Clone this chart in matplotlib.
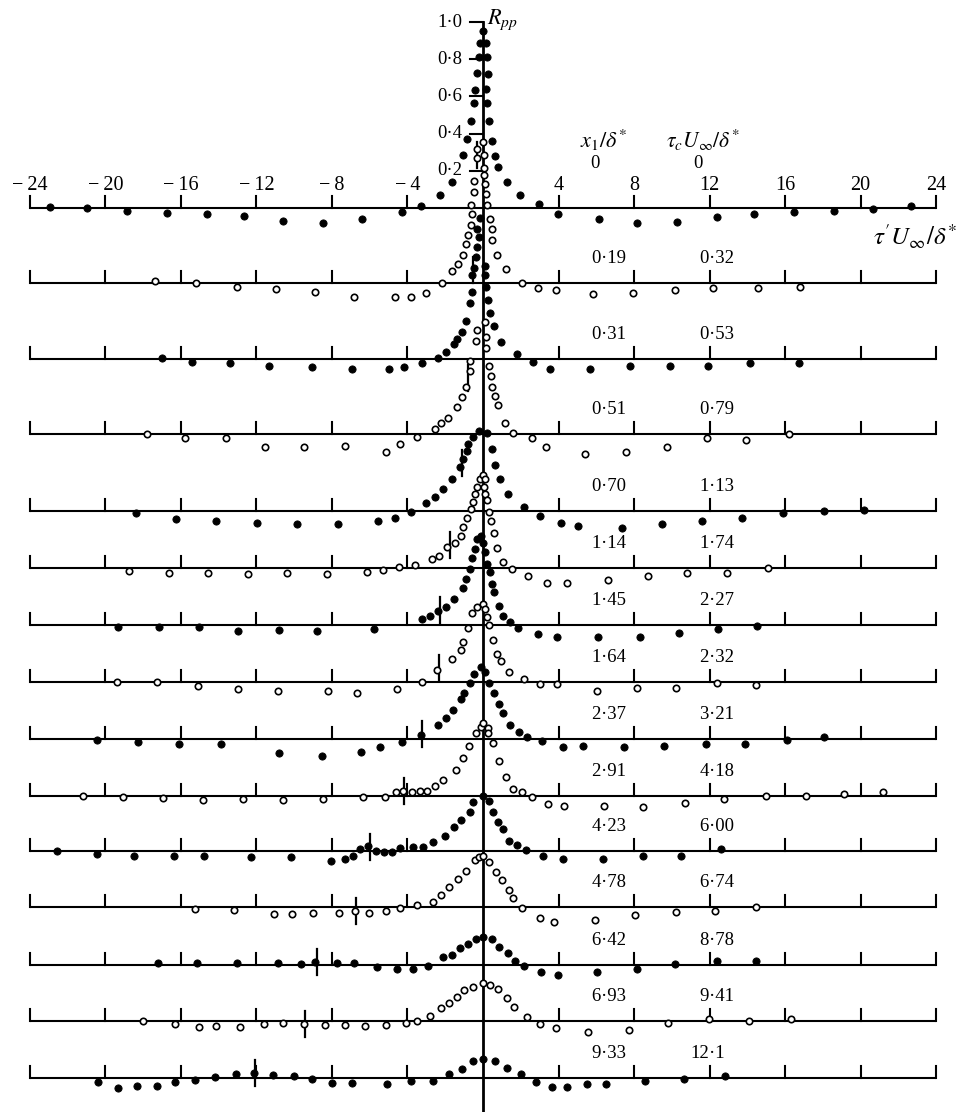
import numpy as np
import matplotlib
matplotlib.use("Agg")
import matplotlib.pyplot as plt

plt.rcParams["font.family"] = ["Liberation Serif", "DejaVu Serif"]
plt.rcParams["mathtext.fontset"] = "stix"

# ---- data: pressure correlation R_pp against tau' U_inf / delta* ----
x1_labels = ["0", "0·19", "0·31", "0·51", "0·70", "1·14", "1·45", "1·64",
             "2·37", "2·91", "4·23", "4·78", "6·42", "6·93", "9·33"]
tauc_labels = ["0", "0·32", "0·53", "0·79", "1·13", "1·74", "2·27", "2·32",
               "3·21", "4·18", "6·00", "6·74", "8·78", "9·41", "12·1"]
filled = [True, False, True, False, True, False, True, False,
          True, False, True, False, True, False, True]

r0 = [(-22.94, 0.005), (-20.96, 0.0), (-18.88, -0.015), (-16.76, -0.025), (-14.64, -0.03),
      (-12.66, -0.043), (-10.58, -0.068), (-8.49, -0.079), (-6.43, -0.061), (-4.31, -0.022),
      (-3.3, 0.013), (-2.28, 0.07), (-1.63, 0.14), (-1.04, 0.285), (-0.83, 0.37),
      (-0.64, 0.47), (-0.48, 0.565), (-0.45, 0.635), (-0.3, 0.725), (-0.2, 0.81),
      (-0.15, 0.885), (0.0, 0.95), (0.15, 0.885), (0.2, 0.81), (0.25, 0.72), (0.18, 0.64),
      (0.2, 0.565), (0.3, 0.47), (0.5, 0.36), (0.63, 0.28), (0.8, 0.22), (1.27, 0.14),
      (1.96, 0.07), (2.98, 0.02), (3.97, -0.03), (6.15, -0.061), (8.14, -0.079),
      (10.28, -0.074), (12.38, -0.047), (14.36, -0.034), (16.48, -0.02), (18.6, -0.014),
      (20.66, -0.005), (22.66, 0.012)]
r1 = [(-17.4, 0.01), (-15.22, 0.0), (-13.05, -0.02), (-10.97, -0.034), (-8.9, -0.05),
      (-6.83, -0.074), (-4.66, -0.074), (-3.81, -0.074), (-3.02, -0.055), (-2.19, 0.0),
      (-1.63, 0.065), (-1.31, 0.1), (-1.08, 0.15), (-0.9, 0.21), (-0.81, 0.26),
      (-0.64, 0.31), (-0.6, 0.37), (-0.65, 0.42), (-0.48, 0.49), (-0.48, 0.55),
      (-0.33, 0.67), (-0.3, 0.72), (0.0, 0.76), (0.05, 0.69), (0.05, 0.62), (0.05, 0.58),
      (0.1, 0.53), (0.16, 0.48), (0.21, 0.42), (0.37, 0.344), (0.46, 0.29), (0.46, 0.23),
      (0.76, 0.15), (1.22, 0.074), (2.05, 0.0), (2.91, -0.028), (3.87, -0.038),
      (5.83, -0.06), (7.95, -0.055), (10.17, -0.038), (12.19, -0.028), (14.57, -0.025),
      (16.79, -0.02)]
r2 = [(-17.02, 0.004), (-15.4, -0.015), (-13.4, -0.023), (-11.32, -0.038), (-9.08, -0.041),
      (-6.96, -0.055), (-4.96, -0.055), (-4.17, -0.041), (-3.25, -0.02), (-2.37, 0.007),
      (-1.96, 0.04), (-1.54, 0.08), (-1.36, 0.11), (-1.13, 0.147), (-0.9, 0.206),
      (-0.69, 0.3), (-0.6, 0.36), (-0.6, 0.45), (-0.5, 0.49), (-0.38, 0.55), (-0.33, 0.6),
      (-0.2, 0.655), (-0.33, 0.7), (-0.15, 0.76), (0.1, 0.5), (0.1, 0.45), (0.16, 0.385),
      (0.28, 0.32), (0.37, 0.245), (0.6, 0.18), (0.98, 0.09), (1.8, 0.027), (2.65, -0.015),
      (3.55, -0.052), (5.67, -0.055), (7.79, -0.038), (9.91, -0.038), (11.94, -0.038),
      (14.15, -0.023), (16.76, -0.023)]
r3 = [(-17.82, 0.0), (-15.79, -0.023), (-13.63, -0.023), (-11.55, -0.07), (-9.48, -0.07),
      (-7.31, -0.063), (-5.15, -0.095), (-4.4, -0.054), (-3.48, -0.018), (-2.54, 0.027),
      (-2.24, 0.057), (-1.84, 0.088), (-1.36, 0.147), (-1.13, 0.2), (-0.92, 0.254),
      (-0.69, 0.34), (-0.69, 0.39), (-0.35, 0.5), (-0.3, 0.56), (0.1, 0.6), (0.16, 0.52),
      (0.16, 0.46), (0.33, 0.367), (0.41, 0.31), (0.5, 0.25), (0.64, 0.204), (0.81, 0.156),
      (1.17, 0.058), (1.6, 0.004), (2.58, -0.023), (3.32, -0.07), (5.43, -0.108),
      (7.6, -0.095), (9.73, -0.07), (11.88, -0.023), (13.94, -0.03), (16.2, 0.0)]
r4 = [(-18.4, -0.012), (-16.26, -0.043), (-14.15, -0.052), (-11.99, -0.066), (-9.87, -0.07),
      (-7.67, -0.072), (-5.58, -0.052), (-4.66, -0.04), (-3.81, -0.007), (-3.02, 0.045),
      (-2.54, 0.077), (-2.14, 0.118), (-1.66, 0.17), (-1.22, 0.235), (-1.04, 0.28),
      (-0.86, 0.32), (-0.78, 0.36), (-0.55, 0.4), (-0.2, 0.43), (0.2, 0.42), (0.49, 0.333),
      (0.64, 0.245), (0.9, 0.17), (1.34, 0.09), (2.17, 0.02), (3.02, -0.025), (4.13, -0.066),
      (5.05, -0.079), (7.35, -0.09), (9.5, -0.07), (11.59, -0.052), (13.74, -0.04),
      (15.91, -0.009), (18.08, 0.0), (20.2, 0.005)]
r5 = [(-18.75, -0.014), (-16.64, -0.025), (-14.55, -0.025), (-12.47, -0.032), (-10.37, -0.025),
      (-8.25, -0.032), (-6.16, -0.02), (-5.31, -0.011), (-4.45, 0.004), (-3.6, 0.016),
      (-2.69, 0.047), (-2.32, 0.066), (-1.89, 0.115), (-1.48, 0.136), (-1.17, 0.172),
      (-1.04, 0.222), (-0.83, 0.267), (-0.65, 0.316), (-0.51, 0.356), (-0.42, 0.4),
      (-0.3, 0.437), (-0.15, 0.48), (0.0, 0.5), (0.1, 0.48), (0.05, 0.437), (0.1, 0.4),
      (0.2, 0.366), (0.33, 0.3), (0.41, 0.25), (0.58, 0.19), (0.73, 0.106), (1.08, 0.03),
      (1.52, -0.005), (2.4, -0.043), (3.41, -0.079), (4.47, -0.079), (6.64, -0.065),
      (8.76, -0.043), (10.79, -0.029), (12.91, -0.025), (15.08, 0.002)]
r6 = [(-19.32, -0.01), (-17.15, -0.013), (-15.03, -0.01), (-12.96, -0.031), (-10.79, -0.027),
      (-8.78, -0.031), (-5.77, -0.023), (-3.25, 0.032), (-2.81, 0.05), (-2.37, 0.075),
      (-1.98, 0.099), (-1.54, 0.138), (-1.08, 0.2), (-0.9, 0.25), (-0.7, 0.3), (-0.6, 0.36),
      (-0.42, 0.41), (-0.33, 0.46), (-0.1, 0.48), (0.0, 0.44), (0.1, 0.39), (0.22, 0.33),
      (0.37, 0.283), (0.46, 0.22), (0.58, 0.176), (0.85, 0.102), (1.04, 0.048), (1.43, 0.018),
      (1.84, -0.018), (2.9, -0.048), (3.94, -0.066), (6.11, -0.066), (8.32, -0.063),
      (10.38, -0.045), (12.47, -0.023), (14.53, -0.005)]
r7 = [(-19.37, 0.002), (-17.26, 0.0), (-15.12, -0.022), (-12.96, -0.039), (-10.84, -0.048),
      (-8.19, -0.047), (-6.66, -0.061), (-4.57, -0.039), (-3.25, 0.002), (-2.45, 0.065),
      (-1.66, 0.122), (-1.18, 0.17), (-1.04, 0.215), (-0.8, 0.29), (-0.6, 0.37),
      (-0.33, 0.405), (0.02, 0.42), (0.11, 0.39), (0.23, 0.35), (0.33, 0.305), (0.51, 0.225),
      (0.72, 0.15), (0.94, 0.115), (1.38, 0.055), (2.19, 0.015), (3.02, -0.011),
      (3.94, -0.011), (6.06, -0.047), (8.17, -0.034), (10.23, -0.034), (12.38, -0.007),
      (14.45, -0.016)]
r8 = [(-20.47, -0.005), (-18.26, -0.018), (-16.1, -0.027), (-13.9, -0.028), (-10.79, -0.077),
      (-8.55, -0.091), (-6.46, -0.072), (-5.46, -0.045), (-4.31, -0.014), (-3.3, 0.022),
      (-2.4, 0.075), (-1.98, 0.115), (-1.61, 0.156), (-1.17, 0.215), (-0.99, 0.249),
      (-0.69, 0.3), (-0.46, 0.348), (-0.1, 0.385), (0.1, 0.36), (0.3, 0.3), (0.58, 0.246),
      (0.85, 0.188), (1.04, 0.138), (1.43, 0.075), (1.92, 0.036), (2.35, 0.012),
      (3.11, -0.011), (4.25, -0.041), (5.31, -0.038), (7.49, -0.041), (9.59, -0.038),
      (11.8, -0.027), (13.88, -0.027), (16.09, -0.005), (18.08, 0.012)]
r9 = [(-21.21, 0.0), (-19.06, -0.004), (-16.94, -0.013), (-14.82, -0.022), (-12.7, -0.018),
      (-10.58, -0.022), (-8.46, -0.018), (-6.34, -0.006), (-5.19, -0.006), (-4.61, 0.02),
      (-4.22, 0.025), (-3.78, 0.02), (-3.34, 0.025), (-2.95, 0.025), (-2.54, 0.056),
      (-2.14, 0.088), (-1.45, 0.137), (-1.08, 0.204), (-0.73, 0.271), (-0.37, 0.341),
      (-0.1, 0.37), (0.0, 0.39), (0.28, 0.365), (0.28, 0.34), (0.51, 0.285), (0.86, 0.19),
      (1.22, 0.104), (1.6, 0.04), (2.08, 0.02), (2.58, -0.007), (3.45, -0.045), (4.28, -0.052),
      (6.41, -0.054), (8.49, -0.061), (10.7, -0.039), (12.77, -0.018), (14.98, 0.0),
      (17.11, 0.0), (19.14, 0.009), (21.21, 0.02)]
r10 = [(-22.55, 0.0), (-20.47, -0.018), (-18.47, -0.027), (-16.35, -0.027), (-14.78, -0.027),
       (-12.31, -0.031), (-10.19, -0.031), (-8.07, -0.054), (-7.31, -0.045), (-6.9, -0.027),
       (-6.52, 0.009), (-6.11, 0.027), (-5.67, 0.002), (-5.25, -0.007), (-4.8, -0.004),
       (-4.4, 0.014), (-3.72, 0.02), (-3.19, 0.02), (-2.63, 0.05), (-2.01, 0.08),
       (-1.52, 0.127), (-1.17, 0.167), (-0.69, 0.211), (-0.51, 0.265), (-0.02, 0.298),
       (0.33, 0.27), (0.54, 0.211), (0.81, 0.155), (1.08, 0.117), (1.4, 0.055), (1.79, 0.03),
       (2.28, 0.005), (3.2, -0.026), (4.26, -0.043), (6.34, -0.043), (8.46, -0.027),
       (10.47, -0.027), (12.59, 0.011)]
r11 = [(-15.26, -0.012), (-13.19, -0.016), (-11.07, -0.039), (-10.1, -0.039), (-8.99, -0.031),
       (-7.63, -0.031), (-6.78, -0.022), (-6.02, -0.031), (-5.15, -0.022), (-4.4, -0.007),
       (-3.48, 0.011), (-2.63, 0.028), (-2.23, 0.065), (-1.79, 0.106), (-1.34, 0.149),
       (-0.9, 0.195), (-0.42, 0.255), (-0.2, 0.27), (0.0, 0.275), (0.3, 0.24), (0.7, 0.19),
       (0.99, 0.146), (1.39, 0.093), (1.6, 0.048), (2.09, -0.005), (3.04, -0.058),
       (3.76, -0.081), (5.93, -0.07), (8.05, -0.043), (10.21, -0.029), (12.29, -0.022),
       (14.46, 0.002)]
r12 = [(-17.2, 0.012), (-15.13, 0.012), (-13.02, 0.009), (-10.88, 0.009), (-9.66, 0.004),
       (-8.9, 0.015), (-7.72, 0.012), (-6.82, 0.009), (-5.63, -0.012), (-4.54, -0.022),
       (-3.69, -0.023), (-2.93, -0.004), (-2.14, 0.041), (-1.66, 0.054), (-1.22, 0.09),
       (-0.78, 0.113), (-0.37, 0.138), (0.0, 0.152), (0.46, 0.138), (0.86, 0.097),
       (1.33, 0.065), (1.7, 0.023), (2.17, -0.005), (3.07, -0.04), (3.96, -0.052),
       (6.02, -0.039), (8.14, -0.022), (10.17, 0.005), (12.41, 0.023), (14.46, 0.023)]
r13 = [(-18.03, 0.0), (-16.32, -0.016), (-15.03, -0.034), (-14.15, -0.027), (-12.87, -0.034),
       (-11.59, -0.016), (-10.58, -0.013), (-9.48, -0.016), (-8.37, -0.022), (-7.31, -0.022),
       (-6.25, -0.027), (-5.15, -0.022), (-4.1, -0.013), (-3.51, 0.002), (-2.81, 0.028),
       (-2.23, 0.072), (-1.8, 0.095), (-1.36, 0.131), (-0.99, 0.167), (-0.55, 0.184),
       (0.0, 0.205), (0.37, 0.192), (0.81, 0.17), (1.25, 0.126), (1.64, 0.075), (2.34, 0.024),
       (3.02, -0.016), (3.85, -0.039), (5.58, -0.057), (7.75, -0.048), (9.82, -0.012),
       (11.99, 0.009), (14.11, 0.002), (16.3, 0.011)]
r14 = [(-20.38, -0.023), (-19.32, -0.055), (-18.35, -0.043), (-17.29, -0.043), (-16.32, -0.02),
       (-15.26, -0.011), (-14.2, 0.004), (-13.09, 0.02), (-12.13, 0.025), (-11.14, 0.016),
       (-10.01, 0.011), (-9.04, -0.007), (-7.98, -0.028), (-6.92, -0.028), (-5.1, -0.034),
       (-3.81, -0.016), (-2.63, -0.014), (-1.8, 0.022), (-1.13, 0.048), (-0.51, 0.093),
       (0.0, 0.104), (0.64, 0.091), (1.26, 0.052), (2.0, 0.022), (2.81, -0.023),
       (3.64, -0.05), (4.43, -0.05), (5.49, -0.034), (6.52, -0.034), (8.58, -0.015),
       (10.65, -0.007), (12.82, 0.012)]
rows = [r0, r1, r2, r3, r4, r5, r6, r7, r8, r9, r10, r11, r12, r13, r14]

x_ticks = [-24, -20, -16, -12, -8, -4, 4, 8, 12, 16, 20, 24]
r_ticks = [0.2, 0.4, 0.6, 0.8, 1.0]

# ---- layout: vertical offset of each row's zero line (in R_pp units) ----
row_offset = [0.0, -0.403, -0.812, -1.215, -1.629, -1.935, -2.242, -2.548,
              -2.855, -3.161, -3.457, -3.758, -4.070, -4.371, -4.677]

fig = plt.figure(figsize=(9.58, 11.12), dpi=100)
ax = fig.add_axes([0, 0, 1, 1])
ax.set_xlim(-483 / 18.875, (958 - 483) / 18.875)
ax.set_ylim(-(1112 - 208) / 186, 208 / 186)
ax.axis("off")

k = "black"
tick_h = 0.065


def num(s):
    return float(s.replace("·", "."))


for i, (pts, off) in enumerate(zip(rows, row_offset)):
    # zero line with ticks every 4 units
    ax.plot([-24, 24], [off, off], color=k, lw=1.5, solid_capstyle="butt", zorder=2)
    for t in x_ticks:
        ax.plot([t, t], [off, off + tick_h], color=k, lw=1.5, zorder=2)
    xs = np.array([p[0] for p in pts])
    vs = np.array([p[1] for p in pts])
    if filled[i]:
        ax.plot(xs, vs + off, "o", ms=5.2, mfc=k, mec=k, mew=0.6, ls="none", zorder=4)
    else:
        ax.plot(xs, vs + off, "o", ms=4.6, mfc="white", mec=k, mew=1.2, ls="none", zorder=4)
    # marker bar at tau' = -tau_c
    tc = num(tauc_labels[i])
    if tc > 0:
        order = np.argsort(xs, kind="stable")
        yc = np.interp(-tc, xs[order], vs[order])
        ax.plot([-tc, -tc], [off + yc - 0.07, off + yc + 0.07], color=k, lw=1.6, zorder=3)
    # parameter labels, aligned on the decimal point
    if i == 0:
        ax.text(5.93, off + 0.215, x1_labels[i], ha="center", va="baseline", fontsize=13.5)
        ax.text(11.39, off + 0.215, tauc_labels[i], ha="center", va="baseline", fontsize=13.5)
    else:
        for xd, lab in ((6.25, x1_labels[i]), (11.97, tauc_labels[i])):
            a, b = lab.split("·")
            ax.text(xd, off + 0.108, a, ha="right", va="baseline", fontsize=13.5)
            ax.text(xd, off + 0.108, "·" + b, ha="left", va="baseline", fontsize=13.5)

# top-row tick labels
for t in x_ticks:
    lab = ("\u2212\u2009" + str(-t)) if t < 0 else str(t)
    ax.text(t, 0.097, lab, ha="center", va="baseline", fontsize=14.5)

# R_pp axis
ax.plot([0, 0], [1.0, -(1112 - 208) / 186], color=k, lw=2.0, zorder=3)
for r in r_ticks:
    ax.plot([-0.7, 0], [r, r], color=k, lw=1.5, zorder=3)
    ax.text(-1.1, r, f"{r:.1f}".replace(".", "·"), ha="right", va="center", fontsize=13.5)
ax.text(0.2, 1.01, r"$R_{pp}$", ha="left", va="center", fontsize=16)

# column headings and axis title
ax.text(6.36, 0.366, r"$x_1/\delta^{*}$", ha="center", va="center", fontsize=16)
ax.text(11.66, 0.366, r"$\tau_c U_\infty/\delta^{*}$", ha="center", va="center", fontsize=15.5)
ax.text(25.1, -0.156, r"$\tau'U_{\infty}/\delta^{*}$", ha="right", va="center", fontsize=18)

fig.savefig("out.png", dpi=100, facecolor="white")
